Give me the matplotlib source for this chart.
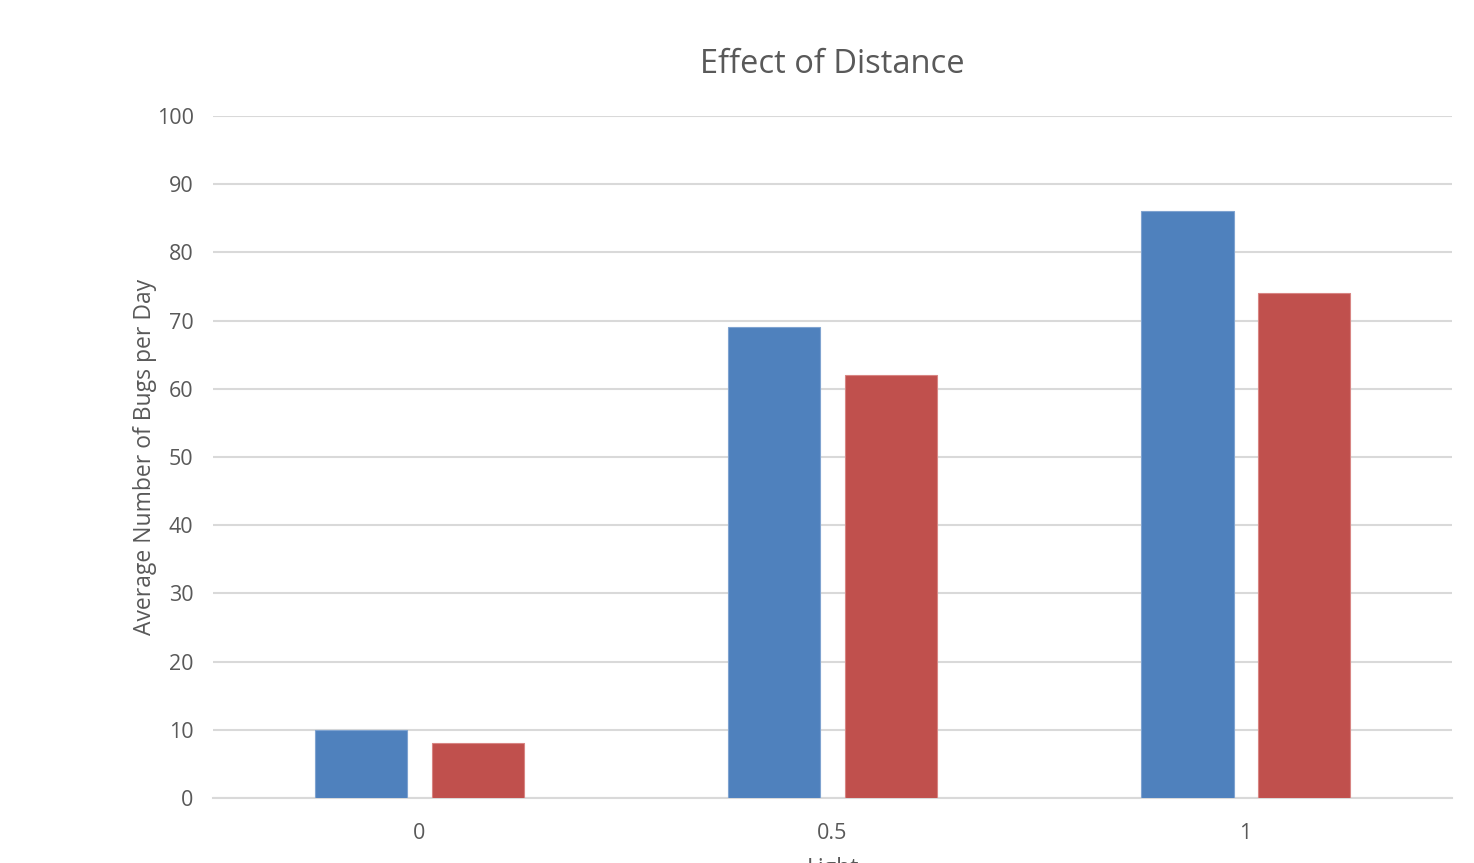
import matplotlib
matplotlib.use("Agg")
import matplotlib.pyplot as plt
import numpy as np

plt.rcParams["font.family"] = ["Open Sans", "DejaVu Sans"]

INK = "#595959"
GRID = "#D9D9D9"
BLUE = "#4F81BD"
RED = "#C0504D"

categories = ["0", "0.5", "1"]
series_a = [10, 69, 86]
series_b = [8, 62, 74]
y_ticks = [0, 10, 20, 30, 40, 50, 60, 70, 80, 90, 100]

fig = plt.figure(figsize=(14.74, 8.63), dpi=100)
ax = fig.add_axes([0.1445, 0.0753, 0.8406, 0.7903])

x = np.arange(len(categories))
width = 0.225
offset = 0.1416
ax.bar(x - offset, series_a, width, color=BLUE, edgecolor="#7FA3D0", linewidth=0.8, zorder=3)
ax.bar(x + offset, series_b, width, color=RED, edgecolor="#D88583", linewidth=0.8, zorder=3)

ax.set_xlim(-0.5, 2.5)
ax.set_ylim(0, 100)
ax.set_yticks(y_ticks)
ax.set_xticks(x)
ax.set_xticklabels(categories)
ax.yaxis.grid(True, color=GRID, linewidth=1.5, zorder=0)
ax.set_axisbelow(True)

for side in ["top", "right", "left"]:
    ax.spines[side].set_visible(False)
ax.spines["bottom"].set_color(GRID)
ax.spines["bottom"].set_linewidth(1.5)

ax.tick_params(axis="both", length=0, labelsize=15.5, labelcolor=INK)
ax.tick_params(axis="y", pad=14)
ax.tick_params(axis="x", pad=18)

ax.set_title("Effect of Distance", fontsize=23.5, color=INK, pad=31)
ax.set_ylabel("Average Number of Bugs per Day", fontsize=16.5, color=INK, labelpad=0)
ax.set_xlabel("Light", fontsize=16.5, color=INK, labelpad=9)

fig.savefig("out.png", dpi=100)
